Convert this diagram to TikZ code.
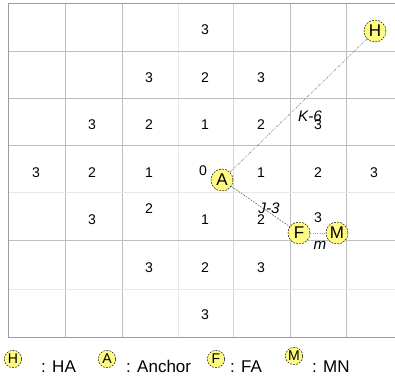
\documentclass[tikz,border=0pt]{standalone}
\usepackage{fontspec}
\setmainfont{Liberation Sans}
\usetikzlibrary{positioning}
\definecolor{EdgeGray}{HTML}{9C9C9C}
\definecolor{GridMid}{HTML}{BEBEBE}
\definecolor{GridSoft}{HTML}{D4D4D4}
\definecolor{GridLight}{HTML}{E8E8E8}
\definecolor{NodeYellow}{HTML}{FFFA82}
\definecolor{LinkGray}{HTML}{7A7A7A}

\begin{document}
\begin{tikzpicture}[x=0.03cm,y=-0.03cm,
    num/.style={inner sep=1pt,font=\fontsize{12}{13}\selectfont},
    spot/.style={circle,draw,dash pattern=on 1.6pt off 1pt,fill=NodeYellow,inner sep=0pt,
      minimum size=0.66cm,font=\fontsize{14.5}{15}\selectfont},
    keyspot/.style={spot,minimum size=0.52cm,font=\fontsize{12}{13}\selectfont},
    keytext/.style={anchor=base west,inner sep=0pt,font=\fontsize{14.5}{16}\selectfont},
    tag/.style={inner sep=0pt,font=\itshape\fontsize{13}{14}\selectfont}]
  \clip (0,0) rectangle (395,378);
  \fill[white] (0,0) rectangle (395,378);
  % grid lines
  \foreach \x/\c in {65/GridMid,122/GridMid,178/GridLight,233/GridSoft,290/GridMid,346/GridMid}
    \draw[\c,line width=0.6pt] (\x,3) -- (\x,337);
  \foreach \y/\c in {51/GridMid,98/GridMid,145/GridMid,192/GridLight,240/GridMid,289/GridLight}
    \draw[\c,line width=0.6pt] (8,\y) -- (403,\y);
  \draw[EdgeGray,line width=0.8pt] (8,3) rectangle (403,337);

  % hop counts
  \foreach \x/\y/\v [count=\i] in {205/30/3,
      149/78/3,205/78/2,261/78/3,
      92/125/3,149/125/2,205/125/1,261/125/2,318/125/3,
      36/173/3,92/173/2,149/173/1,203/171/0,261/173/1,318/173/2,374/173/3,
      92/220/3,149/209/2,205/220/1,261/220/2,318/218/3,
      149/268/3,205/268/2,261/268/3,
      205/315/3}
    \node[num] (d\i) at (\x,\y) {\v};

  % anchors
  \node[spot] (H) at (375,31) {H};
  \node[spot] (A) at (222,180) {A};
  \node[spot] (F) at (299,233) {F};
  \node[spot] (M) at (337,233) {M};
  \draw[LinkGray,dash pattern=on 2pt off 1pt on 0.6pt off 1pt] (A) -- (H);
  \draw[black!70,dash pattern=on 1.5pt off 1pt] (A) -- (F);
  \draw[black!40,dash pattern=on 1pt off 1pt] (F) -- (M);
  \node[tag] (k) at (310,116) {K-6};
  \node[tag] (j) at (269,208) {J-3};
  \node[tag] (m) at (320,245) {m};

  % legend
  \node[keyspot] (kH) at (13,359) {H};
  \node[keytext] (tH) at (41,372) {: HA};
  \node[keyspot] (kA) at (107,359) {A};
  \node[keytext] (tA) at (126,372) {: Anchor};
  \node[keyspot] (kF) at (216,359) {F};
  \node[keytext] (tF) at (230,372) {: FA};
  \node[keyspot] (kM) at (294,356) {M};
  \node[keytext] (tM) at (312,372) {: MN};
\end{tikzpicture}
\end{document}
